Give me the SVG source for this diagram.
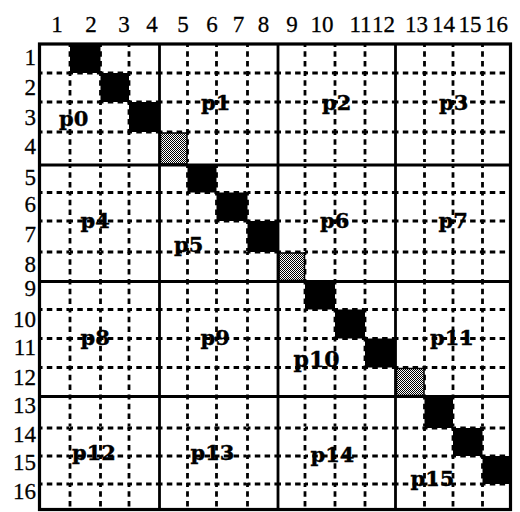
<svg xmlns="http://www.w3.org/2000/svg" width="520" height="512" viewBox="0 0 520 512">
<defs>
<pattern id="hatch" width="2" height="2" patternUnits="userSpaceOnUse">
<rect width="2" height="2" fill="#fff"/>
<rect width="1" height="1" fill="#000"/>
<rect x="1" y="1" width="1" height="1" fill="#000"/>
</pattern>
<style>
.dash{fill:none;stroke:#000;stroke-width:2.8;stroke-dasharray:3 4.3 5.5 4.3 5.5 4.3 3 40}
.thick{fill:none;stroke:#000;stroke-width:2.8}
.border{fill:none;stroke:#000;stroke-width:3.2}
.blk{fill:#000}
.hat{fill:url(#hatch);stroke:#000;stroke-width:1.5}
.hdr{font-family:"Liberation Serif","Times New Roman",serif;font-size:23px;fill:#000;stroke:#000;stroke-width:0.3}
.lbl{font-family:"DejaVu Serif","Liberation Serif",serif;font-weight:bold;font-size:21px;fill:#000;stroke:#000;stroke-width:0.4}
</style>
</defs>
<rect width="520" height="512" fill="#fff"/>
<g id="connectors">
<g id="dashed-rows" class="dash">
<path d="M39.5 73H70M70 73H100.5M100.5 73H129M129 73H159.5M159.5 73H187.5M187.5 73H216.5M216.5 73H247.5M247.5 73H278M278 73H305M305 73H335M335 73H365M365 73H395.5M395.5 73H424.5M424.5 73H453M453 73H482.5M482.5 73H510.5"/>
<path d="M39.5 102H70M70 102H100.5M100.5 102H129M129 102H159.5M159.5 102H187.5M187.5 102H216.5M216.5 102H247.5M247.5 102H278M278 102H305M305 102H335M335 102H365M365 102H395.5M395.5 102H424.5M424.5 102H453M453 102H482.5M482.5 102H510.5"/>
<path d="M39.5 132H70M70 132H100.5M100.5 132H129M129 132H159.5M159.5 132H187.5M187.5 132H216.5M216.5 132H247.5M247.5 132H278M278 132H305M305 132H335M335 132H365M365 132H395.5M395.5 132H424.5M424.5 132H453M453 132H482.5M482.5 132H510.5"/>
<path d="M39.5 192.5H70M70 192.5H100.5M100.5 192.5H129M129 192.5H159.5M159.5 192.5H187.5M187.5 192.5H216.5M216.5 192.5H247.5M247.5 192.5H278M278 192.5H305M305 192.5H335M335 192.5H365M365 192.5H395.5M395.5 192.5H424.5M424.5 192.5H453M453 192.5H482.5M482.5 192.5H510.5"/>
<path d="M39.5 221H70M70 221H100.5M100.5 221H129M129 221H159.5M159.5 221H187.5M187.5 221H216.5M216.5 221H247.5M247.5 221H278M278 221H305M305 221H335M335 221H365M365 221H395.5M395.5 221H424.5M424.5 221H453M453 221H482.5M482.5 221H510.5"/>
<path d="M39.5 252H70M70 252H100.5M100.5 252H129M129 252H159.5M159.5 252H187.5M187.5 252H216.5M216.5 252H247.5M247.5 252H278M278 252H305M305 252H335M335 252H365M365 252H395.5M395.5 252H424.5M424.5 252H453M453 252H482.5M482.5 252H510.5"/>
<path d="M39.5 309.5H70M70 309.5H100.5M100.5 309.5H129M129 309.5H159.5M159.5 309.5H187.5M187.5 309.5H216.5M216.5 309.5H247.5M247.5 309.5H278M278 309.5H305M305 309.5H335M335 309.5H365M365 309.5H395.5M395.5 309.5H424.5M424.5 309.5H453M453 309.5H482.5M482.5 309.5H510.5"/>
<path d="M39.5 338.5H70M70 338.5H100.5M100.5 338.5H129M129 338.5H159.5M159.5 338.5H187.5M187.5 338.5H216.5M216.5 338.5H247.5M247.5 338.5H278M278 338.5H305M305 338.5H335M335 338.5H365M365 338.5H395.5M395.5 338.5H424.5M424.5 338.5H453M453 338.5H482.5M482.5 338.5H510.5"/>
<path d="M39.5 367.5H70M70 367.5H100.5M100.5 367.5H129M129 367.5H159.5M159.5 367.5H187.5M187.5 367.5H216.5M216.5 367.5H247.5M247.5 367.5H278M278 367.5H305M305 367.5H335M335 367.5H365M365 367.5H395.5M395.5 367.5H424.5M424.5 367.5H453M453 367.5H482.5M482.5 367.5H510.5"/>
<path d="M39.5 428H70M70 428H100.5M100.5 428H129M129 428H159.5M159.5 428H187.5M187.5 428H216.5M216.5 428H247.5M247.5 428H278M278 428H305M305 428H335M335 428H365M365 428H395.5M395.5 428H424.5M424.5 428H453M453 428H482.5M482.5 428H510.5"/>
<path d="M39.5 456H70M70 456H100.5M100.5 456H129M129 456H159.5M159.5 456H187.5M187.5 456H216.5M216.5 456H247.5M247.5 456H278M278 456H305M305 456H335M335 456H365M365 456H395.5M395.5 456H424.5M424.5 456H453M453 456H482.5M482.5 456H510.5"/>
<path d="M39.5 484H70M70 484H100.5M100.5 484H129M129 484H159.5M159.5 484H187.5M187.5 484H216.5M216.5 484H247.5M247.5 484H278M278 484H305M305 484H335M335 484H365M365 484H395.5M395.5 484H424.5M424.5 484H453M453 484H482.5M482.5 484H510.5"/>
</g>
<g id="dashed-cols" class="dash">
<path d="M70 44V73M70 73V102M70 102V132M70 132V165M70 165V192.5M70 192.5V221M70 221V252M70 252V281.5M70 281.5V309.5M70 309.5V338.5M70 338.5V367.5M70 367.5V396.5M70 396.5V428M70 428V456M70 456V484M70 484V509.5"/>
<path d="M100.5 44V73M100.5 73V102M100.5 102V132M100.5 132V165M100.5 165V192.5M100.5 192.5V221M100.5 221V252M100.5 252V281.5M100.5 281.5V309.5M100.5 309.5V338.5M100.5 338.5V367.5M100.5 367.5V396.5M100.5 396.5V428M100.5 428V456M100.5 456V484M100.5 484V509.5"/>
<path d="M129 44V73M129 73V102M129 102V132M129 132V165M129 165V192.5M129 192.5V221M129 221V252M129 252V281.5M129 281.5V309.5M129 309.5V338.5M129 338.5V367.5M129 367.5V396.5M129 396.5V428M129 428V456M129 456V484M129 484V509.5"/>
<path d="M187.5 44V73M187.5 73V102M187.5 102V132M187.5 132V165M187.5 165V192.5M187.5 192.5V221M187.5 221V252M187.5 252V281.5M187.5 281.5V309.5M187.5 309.5V338.5M187.5 338.5V367.5M187.5 367.5V396.5M187.5 396.5V428M187.5 428V456M187.5 456V484M187.5 484V509.5"/>
<path d="M216.5 44V73M216.5 73V102M216.5 102V132M216.5 132V165M216.5 165V192.5M216.5 192.5V221M216.5 221V252M216.5 252V281.5M216.5 281.5V309.5M216.5 309.5V338.5M216.5 338.5V367.5M216.5 367.5V396.5M216.5 396.5V428M216.5 428V456M216.5 456V484M216.5 484V509.5"/>
<path d="M247.5 44V73M247.5 73V102M247.5 102V132M247.5 132V165M247.5 165V192.5M247.5 192.5V221M247.5 221V252M247.5 252V281.5M247.5 281.5V309.5M247.5 309.5V338.5M247.5 338.5V367.5M247.5 367.5V396.5M247.5 396.5V428M247.5 428V456M247.5 456V484M247.5 484V509.5"/>
<path d="M305 44V73M305 73V102M305 102V132M305 132V165M305 165V192.5M305 192.5V221M305 221V252M305 252V281.5M305 281.5V309.5M305 309.5V338.5M305 338.5V367.5M305 367.5V396.5M305 396.5V428M305 428V456M305 456V484M305 484V509.5"/>
<path d="M335 44V73M335 73V102M335 102V132M335 132V165M335 165V192.5M335 192.5V221M335 221V252M335 252V281.5M335 281.5V309.5M335 309.5V338.5M335 338.5V367.5M335 367.5V396.5M335 396.5V428M335 428V456M335 456V484M335 484V509.5"/>
<path d="M365 44V73M365 73V102M365 102V132M365 132V165M365 165V192.5M365 192.5V221M365 221V252M365 252V281.5M365 281.5V309.5M365 309.5V338.5M365 338.5V367.5M365 367.5V396.5M365 396.5V428M365 428V456M365 456V484M365 484V509.5"/>
<path d="M424.5 44V73M424.5 73V102M424.5 102V132M424.5 132V165M424.5 165V192.5M424.5 192.5V221M424.5 221V252M424.5 252V281.5M424.5 281.5V309.5M424.5 309.5V338.5M424.5 338.5V367.5M424.5 367.5V396.5M424.5 396.5V428M424.5 428V456M424.5 456V484M424.5 484V509.5"/>
<path d="M453 44V73M453 73V102M453 102V132M453 132V165M453 165V192.5M453 192.5V221M453 221V252M453 252V281.5M453 281.5V309.5M453 309.5V338.5M453 338.5V367.5M453 367.5V396.5M453 396.5V428M453 428V456M453 456V484M453 484V509.5"/>
<path d="M482.5 44V73M482.5 73V102M482.5 102V132M482.5 132V165M482.5 165V192.5M482.5 192.5V221M482.5 221V252M482.5 252V281.5M482.5 281.5V309.5M482.5 309.5V338.5M482.5 338.5V367.5M482.5 367.5V396.5M482.5 396.5V428M482.5 428V456M482.5 456V484M482.5 484V509.5"/>
</g>
</g>
<g id="cells">
<rect id="c1-2" class="blk" x="70" y="44" width="30.5" height="29"/>
<rect id="c2-3" class="blk" x="100.5" y="73" width="28.5" height="29"/>
<rect id="c3-4" class="blk" x="129" y="102" width="30.5" height="30"/>
<rect id="c4-5" class="hat" x="160.5" y="133" width="26.5" height="31"/>
<rect id="c5-6" class="blk" x="187.5" y="165" width="29" height="27.5"/>
<rect id="c6-7" class="blk" x="216.5" y="192.5" width="31" height="28.5"/>
<rect id="c7-8" class="blk" x="247.5" y="221" width="30.5" height="31"/>
<rect id="c8-9" class="hat" x="279" y="253" width="25.5" height="27.5"/>
<rect id="c9-10" class="blk" x="305" y="281.5" width="30" height="28"/>
<rect id="c10-11" class="blk" x="335" y="309.5" width="30" height="29"/>
<rect id="c11-12" class="blk" x="365" y="338.5" width="30.5" height="29"/>
<rect id="c12-13" class="hat" x="396.5" y="368.5" width="27.5" height="27"/>
<rect id="c13-14" class="blk" x="424.5" y="396.5" width="28.5" height="31.5"/>
<rect id="c14-15" class="blk" x="453" y="428" width="29.5" height="28"/>
<rect id="c15-16" class="blk" x="482.5" y="456" width="28" height="28"/>
</g>
<g id="blocks">
<path class="thick" d="M159.5 44V509.5M278 44V509.5M395.5 44V509.5M39.5 165H510.5M39.5 281.5H510.5M39.5 396.5H510.5"/>
<rect class="border" x="39.5" y="44" width="471" height="465.5"/>
</g>
<g id="col-headers" class="hdr" text-anchor="middle">
<text x="57" y="32">1</text>
<text x="91" y="32">2</text>
<text x="124" y="32">3</text>
<text x="152" y="32">4</text>
<text x="183" y="32">5</text>
<text x="212" y="32">6</text>
<text x="238.5" y="32">7</text>
<text x="263.5" y="32">8</text>
<text x="292" y="32">9</text>
<text x="322" y="32">10</text>
<text x="360.5" y="32">11</text>
<text x="383.5" y="32">12</text>
<text x="416.5" y="32">13</text>
<text x="443.5" y="32">14</text>
<text x="470" y="32">15</text>
<text x="496.5" y="32">16</text>
</g>
<g id="row-headers" class="hdr" text-anchor="end">
<text x="36" y="65">1</text>
<text x="36" y="95">2</text>
<text x="36" y="125">3</text>
<text x="36" y="153.5">4</text>
<text x="36" y="185">5</text>
<text x="36" y="212">6</text>
<text x="36" y="242">7</text>
<text x="36" y="272">8</text>
<text x="36" y="296">9</text>
<text x="36" y="326.5">10</text>
<text x="36" y="355">11</text>
<text x="36" y="385">12</text>
<text x="36" y="413">13</text>
<text x="36" y="442">14</text>
<text x="36" y="470">15</text>
<text x="36" y="498.5">16</text>
</g>
<g id="labels" class="lbl">
<text id="p0" x="59" y="126">p0</text>
<text id="p1" x="201" y="110">p1</text>
<text id="p2" x="322" y="110">p2</text>
<text id="p3" x="439" y="110">p3</text>
<text id="p4" x="80.5" y="228">p4</text>
<text id="p5" x="174" y="252">p5</text>
<text id="p6" x="320" y="228">p6</text>
<text id="p7" x="438.5" y="228">p7</text>
<text id="p8" x="80.5" y="345">p8</text>
<text id="p9" x="200.5" y="345">p9</text>
<text id="p10" x="293.5" y="367" style="font-size:22px">p10</text>
<text id="p11" x="430" y="345">p11</text>
<text id="p12" x="72" y="460">p12</text>
<text id="p13" x="190.5" y="460">p13</text>
<text id="p14" x="310.5" y="462">p14</text>
<text id="p15" x="410.5" y="486">p15</text>
</g>
</svg>
